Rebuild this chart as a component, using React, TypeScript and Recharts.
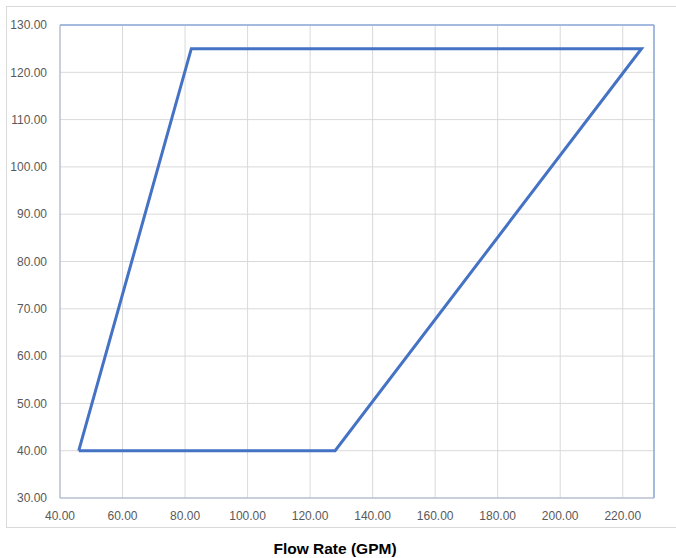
import {
  LineChart,
  Line,
  XAxis,
  YAxis,
  CartesianGrid,
  ReferenceLine,
  Label,
} from "recharts";

// operating envelope corners, in drawing order (closed)
const flowRate = [46, 82, 226, 128, 46];
const head = [40, 125, 125, 40, 40];

const xTicks = [40, 60, 80, 100, 120, 140, 160, 180, 200, 220];
const yTicks = [30, 40, 50, 60, 70, 80, 90, 100, 110, 120, 130];

const xTitle = "Flow Rate (GPM)";

const data = flowRate.map((x, i) => ({ x, y: head[i] }));

const tickStyle = {
  fill: "#595959",
  fontSize: 12,
  fontFamily: "'Liberation Sans', Arial, sans-serif",
};

const App = () => {
  return (
    <div style={{ position: "absolute", left: 0, top: 0, width: 676, height: 558 }}>
      <div
        style={{
          position: "absolute",
          left: 6,
          top: 6,
          width: 680,
          height: 522,
          border: "1px solid #d9d9d9",
          boxSizing: "border-box",
        }}
      />
      <LineChart
        width={676}
        height={558}
        data={data}
        margin={{ top: 25, right: 22, bottom: 0, left: 8 }}
        style={{ position: "absolute", left: 0, top: 0 }}
      >
        <CartesianGrid stroke="#d9d9d9" strokeWidth={1} />
        <XAxis
          type="number"
          dataKey="x"
          domain={[40, 230]}
          ticks={xTicks}
          tickFormatter={(v: number) => v.toFixed(2)}
          tick={tickStyle}
          tickSize={0}
          tickMargin={13}
          height={60}
          stroke="#a6b3c9"
          interval={0}
        >
          <Label
            content={() => (
              <text
                x={335}
                y={554}
                textAnchor="middle"
                fontSize={15.5}
                fontWeight="bold"
                fill="#000"
                fontFamily="'Liberation Sans', Arial, sans-serif"
              >
                {xTitle}
              </text>
            )}
          />
        </XAxis>
        <YAxis
          type="number"
          domain={[30, 130]}
          ticks={yTicks}
          tickFormatter={(v: number) => v.toFixed(2)}
          tick={tickStyle}
          tickSize={0}
          tickMargin={13}
          width={52}
          stroke="#a6b3c9"
          interval={0}
        />
        <ReferenceLine y={130} stroke="#8eaadb" strokeWidth={1.5} />
        <ReferenceLine x={230} stroke="#8eaadb" strokeWidth={1.5} />
        <Line
          type="linear"
          dataKey="y"
          stroke="#4472c4"
          strokeWidth={3}
          dot={false}
          activeDot={false}
          isAnimationActive={false}
        />
      </LineChart>
    </div>
  );
};

export default App;
